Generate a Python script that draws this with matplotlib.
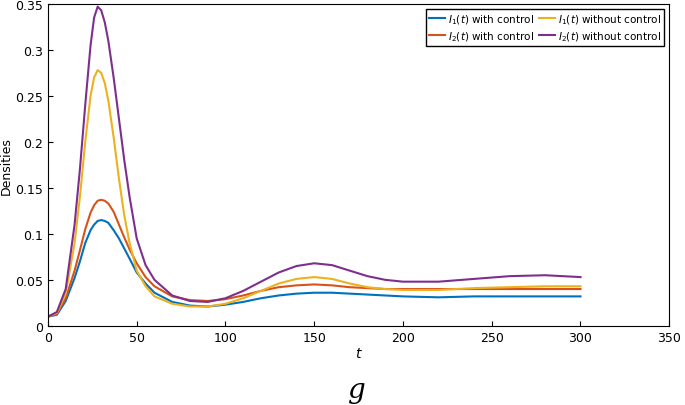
import numpy as np
import matplotlib.pyplot as plt

t = [0, 5, 10, 15, 18, 21, 24, 26, 28, 30, 32, 34, 37, 40, 43, 46, 50, 55, 60,
     70, 80, 90, 100, 110, 120, 130, 140, 150, 160, 170, 180, 190, 200, 220, 240, 260, 280, 300]

i2_without = [0.01, 0.015, 0.04, 0.11, 0.17, 0.24, 0.305, 0.335, 0.347, 0.343, 0.33, 0.31, 0.27,
              0.225, 0.18, 0.14, 0.095, 0.066, 0.05,
              0.033, 0.027, 0.026, 0.03, 0.038, 0.048, 0.058, 0.065, 0.068, 0.066, 0.06,
              0.054, 0.05, 0.048, 0.048, 0.051, 0.054, 0.055, 0.053]
i1_without = [0.01, 0.014, 0.035, 0.09, 0.14, 0.2, 0.25, 0.27, 0.278, 0.275, 0.264, 0.245, 0.205,
              0.16, 0.12, 0.09, 0.06, 0.043, 0.032,
              0.024, 0.021, 0.021, 0.024, 0.03, 0.038, 0.046, 0.051, 0.053, 0.051, 0.046,
              0.042, 0.04, 0.039, 0.039, 0.041, 0.042, 0.043, 0.043]
i2_with = [0.01, 0.013, 0.03, 0.06, 0.082, 0.105, 0.123, 0.131, 0.136, 0.137, 0.136, 0.133, 0.124,
           0.11, 0.096, 0.083, 0.068, 0.053, 0.043,
           0.032, 0.028, 0.027, 0.029, 0.033, 0.038, 0.042, 0.044, 0.045, 0.044, 0.042,
           0.041, 0.04, 0.04, 0.04, 0.04, 0.04, 0.04, 0.04]
i1_with = [0.01, 0.012, 0.027, 0.052, 0.07, 0.09, 0.104, 0.11, 0.114, 0.115, 0.114, 0.112, 0.104,
           0.095, 0.084, 0.073, 0.058, 0.046, 0.036,
           0.026, 0.022, 0.021, 0.023, 0.026, 0.03, 0.033, 0.035, 0.036, 0.036, 0.035,
           0.034, 0.033, 0.032, 0.031, 0.032, 0.032, 0.032, 0.032]

fig = plt.figure(figsize=(6.85, 4.06), dpi=100)
ax = fig.add_axes([0.07, 0.195, 0.907, 0.793])

ax.plot(t, i1_with, color='#0072BD', lw=1.5, label='$I_1(t)$ with control')
ax.plot(t, i2_with, color='#D95319', lw=1.5, label='$I_2(t)$ with control')
ax.plot(t, i1_without, color='#EDB120', lw=1.5, label='$I_1(t)$ without control')
ax.plot(t, i2_without, color='#7E2F8E', lw=1.5, label='$I_2(t)$ without control')

ax.set_xlim(0, 350)
ax.set_ylim(0, 0.35)
ax.set_xticks(range(0, 351, 50))
ax.set_yticks(np.arange(0, 0.351, 0.05))
ax.set_yticklabels(['0', '0.05', '0.1', '0.15', '0.2', '0.25', '0.3', '0.35'])
ax.tick_params(labelsize=9, direction='in')
ax.set_xlabel('$t$', fontsize=10, labelpad=2)
ax.set_ylabel('Densities', fontsize=9, labelpad=2)
ax.legend(ncol=2, fontsize=7.5, loc='upper right', borderpad=0.3, handlelength=1.5,
          columnspacing=0.5, handletextpad=0.3, labelspacing=0.3, fancybox=False,
          edgecolor='black', framealpha=1)

fig.text(0.52, 0.02, 'g', fontsize=20, family='serif', style='italic', ha='center')

fig.savefig('out.png')
